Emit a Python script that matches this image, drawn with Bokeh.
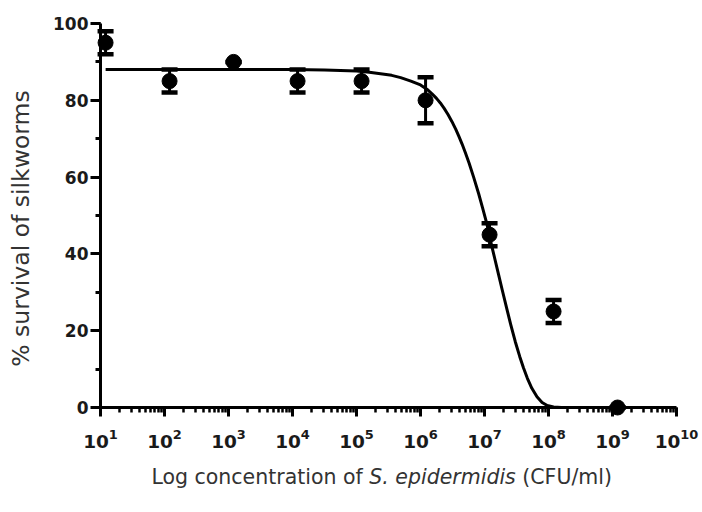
import math
from bokeh.plotting import figure
from bokeh.models import (ColumnDataSource, Whisker, TeeHead, Range1d, LogTicker,
                          SingleIntervalTicker, Label)
from bokeh.embed import file_html
from bokeh.resources import INLINE

# ---- data ----
conc = [1.2e1, 1.2e2, 1.2e3, 1.2e4, 1.2e5, 1.2e6, 1.2e7, 1.2e8, 1.2e9]
survival = [95, 85, 90, 85, 85, 80, 45, 25, 0]
sem = [3, 3, 0, 3, 3, 6, 3, 3, 0]

# fitted curve (log10 concentration, % survival)
fit_log_conc = [1.08, 2.0, 3.0, 4.0, 4.5, 5.0, 5.2, 5.375, 5.55, 5.69, 5.85, 6.0, 6.1,
                6.18, 6.25, 6.31, 6.37, 6.43, 6.49, 6.55, 6.6, 6.65, 6.7, 6.76, 6.83,
                6.91, 6.97, 7.04, 7.1, 7.16, 7.22, 7.28, 7.35, 7.41, 7.48, 7.55, 7.61,
                7.67, 7.74, 7.82, 7.9, 7.98, 8.08, 8.2, 8.6, 9.08]
fit_survival = [88, 88, 88, 88, 87.9, 87.6, 87.3, 86.9, 86.5, 85.9, 85.0, 84.0, 82.9,
                81.7, 80.5, 79.3, 77.9, 76.3, 74.5, 72.5, 70.6, 68.6, 66.4, 63.6, 60.0,
                55.6, 52.0, 47.6, 43.0, 38.8, 34.6, 30.4, 25.6, 21.6, 17.2, 13.3, 10.3,
                7.6, 5.0, 2.8, 1.3, 0.5, 0.15, 0.0, 0.0, 0.0]

y_ticks_interval = 20
x_title_parts = ["Log concentration of", "S. epidermidis", "(CFU/ml)"]
y_title = "% survival of silkworms"

# ---- figure (frame covers the whole canvas; axes are fixed inside it) ----
W, H = 700, 510
PX_DEC = 64.0     # px per decade
PX_UNIT = 3.84    # px per % unit
AX_X, AX_Y = 100, 407   # canvas position of (10^1, 0)
x_start = 10 ** (1 - AX_X / PX_DEC)
x_end = 10 ** (1 - AX_X / PX_DEC + W / PX_DEC)
y_start = -(H - AX_Y) / PX_UNIT
y_end = y_start + H / PX_UNIT

p = figure(width=W, height=H, x_axis_type="log",
           x_range=Range1d(x_start, x_end), y_range=Range1d(y_start, y_end),
           output_backend="svg", toolbar_location=None,
           min_border_left=0, min_border_right=0, min_border_top=0,
           min_border_bottom=0)
p.outline_line_color = None
p.grid.visible = False
p.background_fill_color = "white"

src = ColumnDataSource(dict(
    x=conc, y=survival,
    upper=[s + e for s, e in zip(survival, sem)],
    lower=[s - e for s, e in zip(survival, sem)],
))
fit_src = ColumnDataSource(dict(x=[10 ** e for e in fit_log_conc], y=fit_survival))

p.line("x", "y", source=fit_src, line_width=3, line_color="black", line_join="round")

wh = Whisker(source=src, base="x", upper="upper", lower="lower", dimension="height",
             line_width=3, line_color="black",
             upper_head=TeeHead(size=16, line_width=4.5, line_color="black"),
             lower_head=TeeHead(size=16, line_width=4.5, line_color="black"))
p.add_layout(wh)
p.scatter("x", "y", source=src, size=15, color="black")

# ---- axes ----
xa = p.xaxis[0]
xa.ticker = LogTicker(num_minor_ticks=10)
xa.fixed_location = 0
xa.bounds = (10, 1e10)
xa.axis_line_width = 3
xa.major_tick_line_width = 3
xa.minor_tick_line_width = 2.5
xa.major_tick_in = 0
xa.major_tick_out = 9
xa.minor_tick_in = 0
xa.minor_tick_out = 5
xa.major_label_standoff = 12
xa.major_label_text_font = "DejaVu Sans"
xa.major_label_text_font_style = "bold"
xa.major_label_text_font_size = "18.5px"
xa.major_label_text_color = "#1a1a1a"

ya = p.yaxis[0]
ya.ticker = SingleIntervalTicker(interval=y_ticks_interval, num_minor_ticks=2)
ya.fixed_location = 10
ya.bounds = (0, 100)
ya.axis_line_width = 3
ya.major_tick_line_width = 3
ya.minor_tick_line_width = 3
ya.major_tick_in = 0
ya.major_tick_out = 10
ya.minor_tick_in = 0
ya.minor_tick_out = 5
ya.major_label_standoff = 2
ya.major_label_text_font = "DejaVu Sans"
ya.major_label_text_font_style = "bold"
ya.major_label_text_font_size = "17px"
ya.major_label_text_color = "#1a1a1a"

# ---- titles ----
p.add_layout(Label(x=20, y=H - 228, x_units="screen", y_units="screen", text=y_title,
                   angle=math.pi / 2, text_align="center", text_baseline="middle",
                   text_font="DejaVu Sans", text_font_size="23.5px", text_color="#333333"))

fs = 20.5
base_y = H - 476
p.add_layout(Label(x=362.3, y=base_y, x_units="screen", y_units="screen", text=x_title_parts[0],
                   text_align="right", text_baseline="alphabetic",
                   text_font="DejaVu Sans", text_font_size=f"{fs}px", text_color="#333333"))
p.add_layout(Label(x=368.8, y=base_y, x_units="screen", y_units="screen", text=x_title_parts[1],
                   text_align="left", text_baseline="alphabetic", text_font_style="italic",
                   text_font="DejaVu Sans", text_font_size=f"{fs}px", text_color="#333333"))
p.add_layout(Label(x=521.8, y=base_y, x_units="screen", y_units="screen", text=x_title_parts[2],
                   text_align="left", text_baseline="alphabetic",
                   text_font="DejaVu Sans", text_font_size=f"{fs}px", text_color="#333333"))

open("out.html", "w").write(file_html(p, INLINE))
